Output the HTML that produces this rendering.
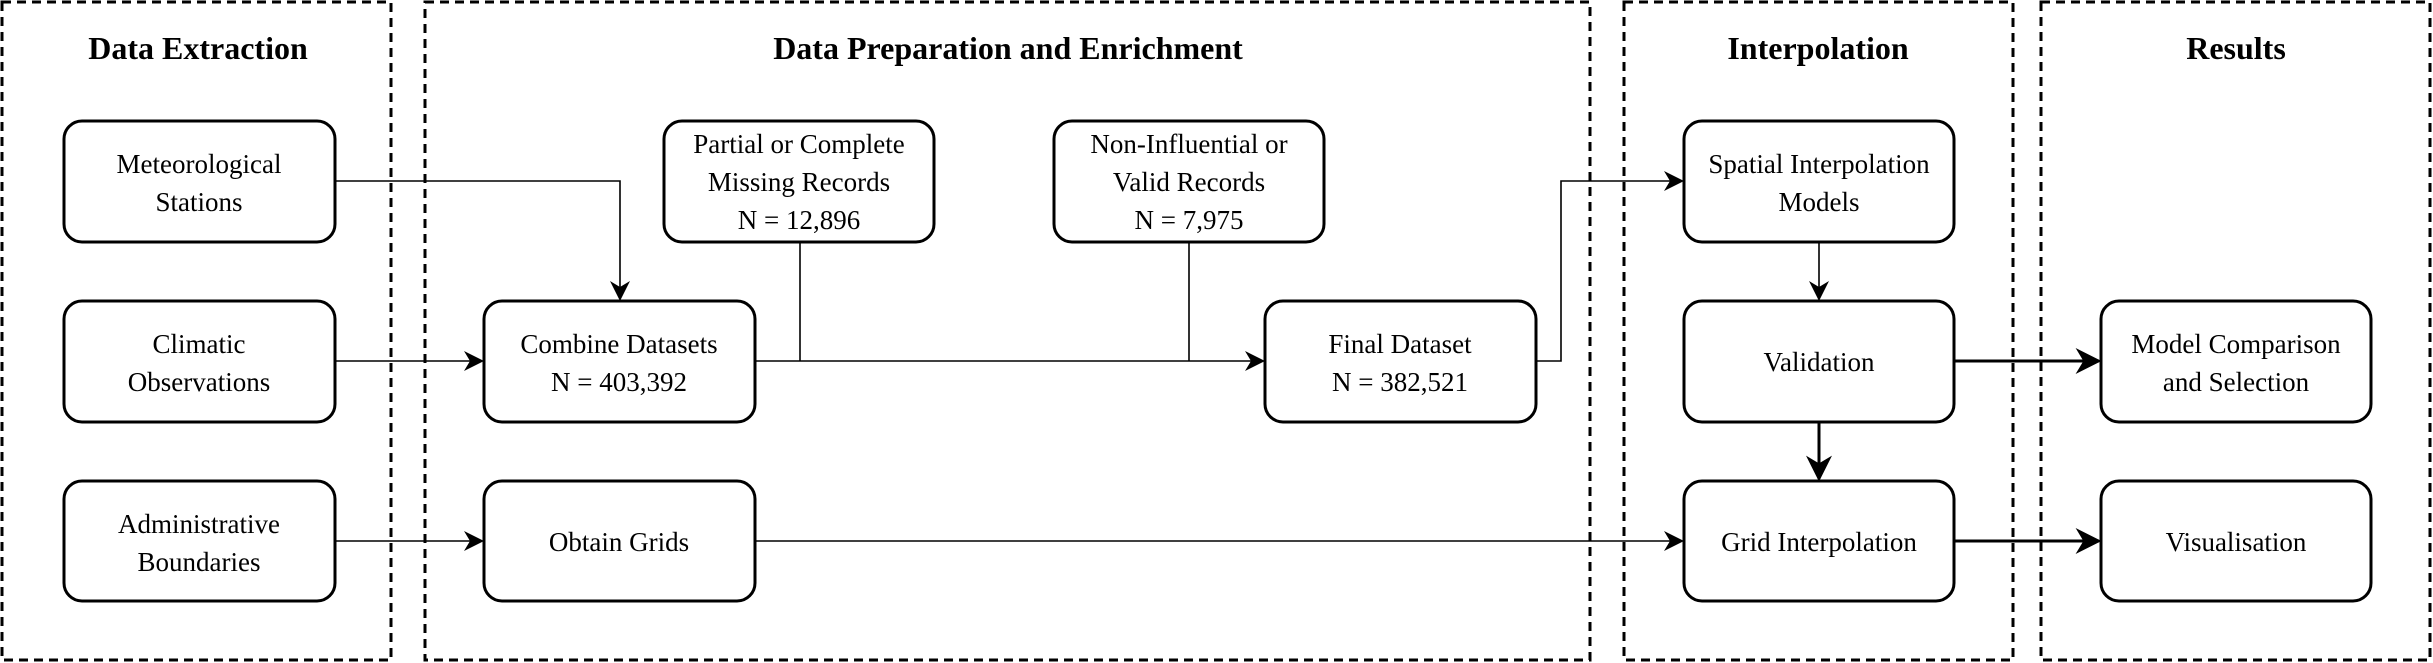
<!DOCTYPE html>
<html><head><meta charset="utf-8"><style>html,body{margin:0;padding:0;background:#fff}svg{display:block}</style></head><body>
<svg width="2433" height="663" viewBox="0 0 2433 663" xmlns="http://www.w3.org/2000/svg" font-family="'Liberation Serif', serif">
<defs>
<marker id="a" viewBox="0 0 10 10" refX="9" refY="5" markerWidth="20" markerHeight="20" markerUnits="userSpaceOnUse" orient="auto"><path d="M0,0 L10,5 L0,10 L3,5 Z" fill="#000"/></marker>
<marker id="b" viewBox="0 0 10 10" refX="9" refY="5" markerWidth="26" markerHeight="26" markerUnits="userSpaceOnUse" orient="auto"><path d="M0,0 L10,5 L0,10 L3,5 Z" fill="#000"/></marker>
</defs>
<g fill="none" stroke="#000" stroke-width="3" stroke-dasharray="9,6">
<rect x="2" y="2" width="389" height="658"/>
<rect x="425" y="2" width="1165" height="658"/>
<rect x="1624" y="2" width="389" height="658"/>
<rect x="2041" y="2" width="389" height="658"/>
</g>
<g font-weight="bold" font-size="32" text-anchor="middle">
<text x="198" y="59">Data Extraction</text>
<text x="1008" y="59">Data Preparation and Enrichment</text>
<text x="1818" y="59">Interpolation</text>
<text x="2236" y="59">Results</text>
</g>
<g fill="none" stroke="#000" stroke-width="1.6">
<polyline points="335,181 620,181 620,299" marker-end="url(#a)"/>
<line x1="335" y1="361" x2="482" y2="361" marker-end="url(#a)"/>
<line x1="335" y1="541" x2="482" y2="541" marker-end="url(#a)"/>
<line x1="755" y1="361" x2="1263" y2="361" marker-end="url(#a)"/>
<line x1="800" y1="242" x2="800" y2="361"/>
<line x1="1189" y1="242" x2="1189" y2="361"/>
<polyline points="1536,361 1561,361 1561,181 1682,181" marker-end="url(#a)"/>
<line x1="755" y1="541" x2="1682" y2="541" marker-end="url(#a)"/>
<line x1="1819" y1="242" x2="1819" y2="299" marker-end="url(#a)"/>
</g>
<g fill="none" stroke="#000" stroke-width="3">
<line x1="1954" y1="361" x2="2099" y2="361" marker-end="url(#b)"/>
<line x1="1954" y1="541" x2="2099" y2="541" marker-end="url(#b)"/>
<line x1="1819" y1="422" x2="1819" y2="479" marker-end="url(#b)"/>
</g>
<g fill="#fff" stroke="#000" stroke-width="3">
<rect x="64" y="121" width="271" height="121" rx="18"/>
<rect x="64" y="301" width="271" height="121" rx="18"/>
<rect x="64" y="481" width="271" height="120" rx="18"/>
<rect x="484" y="301" width="271" height="121" rx="18"/>
<rect x="484" y="481" width="271" height="120" rx="18"/>
<rect x="664" y="121" width="270" height="121" rx="18"/>
<rect x="1054" y="121" width="270" height="121" rx="18"/>
<rect x="1265" y="301" width="271" height="121" rx="18"/>
<rect x="1684" y="121" width="270" height="121" rx="18"/>
<rect x="1684" y="301" width="270" height="121" rx="18"/>
<rect x="1684" y="481" width="270" height="120" rx="18"/>
<rect x="2101" y="301" width="270" height="121" rx="18"/>
<rect x="2101" y="481" width="270" height="120" rx="18"/>
</g>
<g font-size="27" text-anchor="middle" fill="#000">
<text x="199" y="173">Meteorological</text><text x="199" y="211">Stations</text>
<text x="199" y="353">Climatic</text><text x="199" y="391">Observations</text>
<text x="199" y="533">Administrative</text><text x="199" y="571">Boundaries</text>
<text x="619" y="353">Combine Datasets</text><text x="619" y="391">N = 403,392</text>
<text x="619" y="551">Obtain Grids</text>
<text x="799" y="153">Partial or Complete</text><text x="799" y="191">Missing Records</text><text x="799" y="229">N = 12,896</text>
<text x="1189" y="153">Non-Influential or</text><text x="1189" y="191">Valid Records</text><text x="1189" y="229">N = 7,975</text>
<text x="1400" y="353">Final Dataset</text><text x="1400" y="391">N = 382,521</text>
<text x="1819" y="173">Spatial Interpolation</text><text x="1819" y="211">Models</text>
<text x="1819" y="371">Validation</text>
<text x="1819" y="551">Grid Interpolation</text>
<text x="2236" y="353">Model Comparison</text><text x="2236" y="391">and Selection</text>
<text x="2236" y="551">Visualisation</text>
</g>
</svg>
</body></html>
